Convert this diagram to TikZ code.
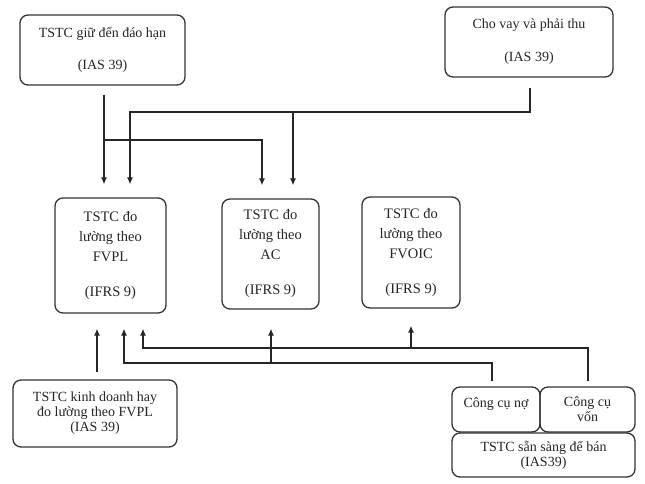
\documentclass[tikz,border=0pt]{standalone}
\usepackage{fontspec}
\setmainfont{Liberation Serif}
\usetikzlibrary{arrows.meta}
\begin{document}
\begin{tikzpicture}[x=1pt,y=-1pt,
  box/.style={draw=black!80, line width=1.3pt, rounded corners=8pt, align=center, inner sep=0pt, text=black!85},
  arr/.style={-{Latex[length=7pt,width=6pt]}, line width=1.2pt, draw=black!85},
  fA/.style={font={\fontsize{14}{16}\selectfont}},
  fB/.style={font={\fontsize{14.5}{20}\selectfont}},
  fC/.style={font={\fontsize{14}{15}\selectfont}},
  fD/.style={font={\fontsize{14}{14}\selectfont}},
  fE/.style={font={\fontsize{14}{15}\selectfont}}]
\fill[white] (0,0) rectangle (645,483);
\useasboundingbox (0,0) rectangle (645,483);
% boxes
\node[box, fA, minimum width=165pt, minimum height=70pt] (gd) at (102.5,50) {TSTC giữ đến đáo hạn\\[16pt](IAS 39)};
\node[box, fA, minimum width=168pt, minimum height=70pt] (cv) at (529,42) {Cho vay và phải thu\\[17pt](IAS 39)};
\node[box, fB, minimum width=111pt, minimum height=115pt] (fvpl) at (110.5,255.5) {TSTC đo\\lường theo\\FVPL\\[15pt](IFRS 9)};
\node[box, fB, minimum width=97pt, minimum height=110pt] (ac) at (270.5,254) {TSTC đo\\lường theo\\AC\\[15pt](IFRS 9)};
\node[box, fB, minimum width=98pt, minimum height=111pt] (fvoic) at (411,252.5) {TSTC đo\\lường theo\\FVOIC\\[15pt](IFRS 9)};
\node[box, fC, minimum width=164pt, minimum height=67pt] (kd) at (95,413.5) {TSTC kinh doanh hay\\đo lường theo FVPL\\(IAS 39)};
\node[box, fD, minimum width=88pt, minimum height=45pt] (no) at (496,409.5) {Công cụ nợ\\\mbox{}};
\node[box, fC, minimum width=95pt, minimum height=45pt] (von) at (587.5,409.5) {Công cụ\\vốn};
\node[box, fE, minimum width=183pt, minimum height=44pt] (ss) at (543.5,455) {TSTC sẵn sàng để bán\\(IAS39)};
% guide coordinates
\coordinate (xa) at (104,0);
\coordinate (xb) at (130,0);
\coordinate (xc) at (262,0);
\coordinate (xd) at (293,0);
\coordinate (xe) at (530,0);
\coordinate (ya) at (0,140);
\coordinate (yb) at (0,112);
\coordinate (xf) at (97,0);
\coordinate (xg) at (124,0);
\coordinate (xh) at (143,0);
\coordinate (xi) at (271,0);
\coordinate (xj) at (411,0);
\coordinate (xk) at (492,0);
\coordinate (xl) at (588,0);
\coordinate (yc) at (0,363);
\coordinate (yd) at (0,348);
% top connectors
\draw[arr, shorten <=9pt, shorten >=13pt] (gd.south -| xa) -- (fvpl.north -| xa);
\draw[arr, shorten >=13pt] (xa |- ya) -- (xc |- ya) -- (ac.north -| xc);
\draw[arr, shorten <=10pt, shorten >=13pt] (cv.south -| xe) -- (xe |- yb) -- (xb |- yb) -- (fvpl.north -| xb);
\draw[arr, shorten >=13pt] (xd |- yb) -- (ac.north -| xd);
% bottom connectors
\draw[arr, shorten <=7pt, shorten >=15pt] (kd.north -| xf) -- (fvpl.south -| xf);
\draw[arr, shorten <=5pt, shorten >=15pt] (no.north -| xk) -- (xk |- yc) -- (xg |- yc) -- (fvpl.south -| xg);
\draw[arr, shorten >=19pt] (xi |- yc) -- (ac.south -| xi);
\draw[arr, shorten <=5pt, shorten >=15pt] (von.north -| xl) -- (xl |- yd) -- (xh |- yd) -- (fvpl.south -| xh);
\draw[arr, shorten >=17pt] (xj |- yd) -- (fvoic.south -| xj);
\end{tikzpicture}
\end{document}
